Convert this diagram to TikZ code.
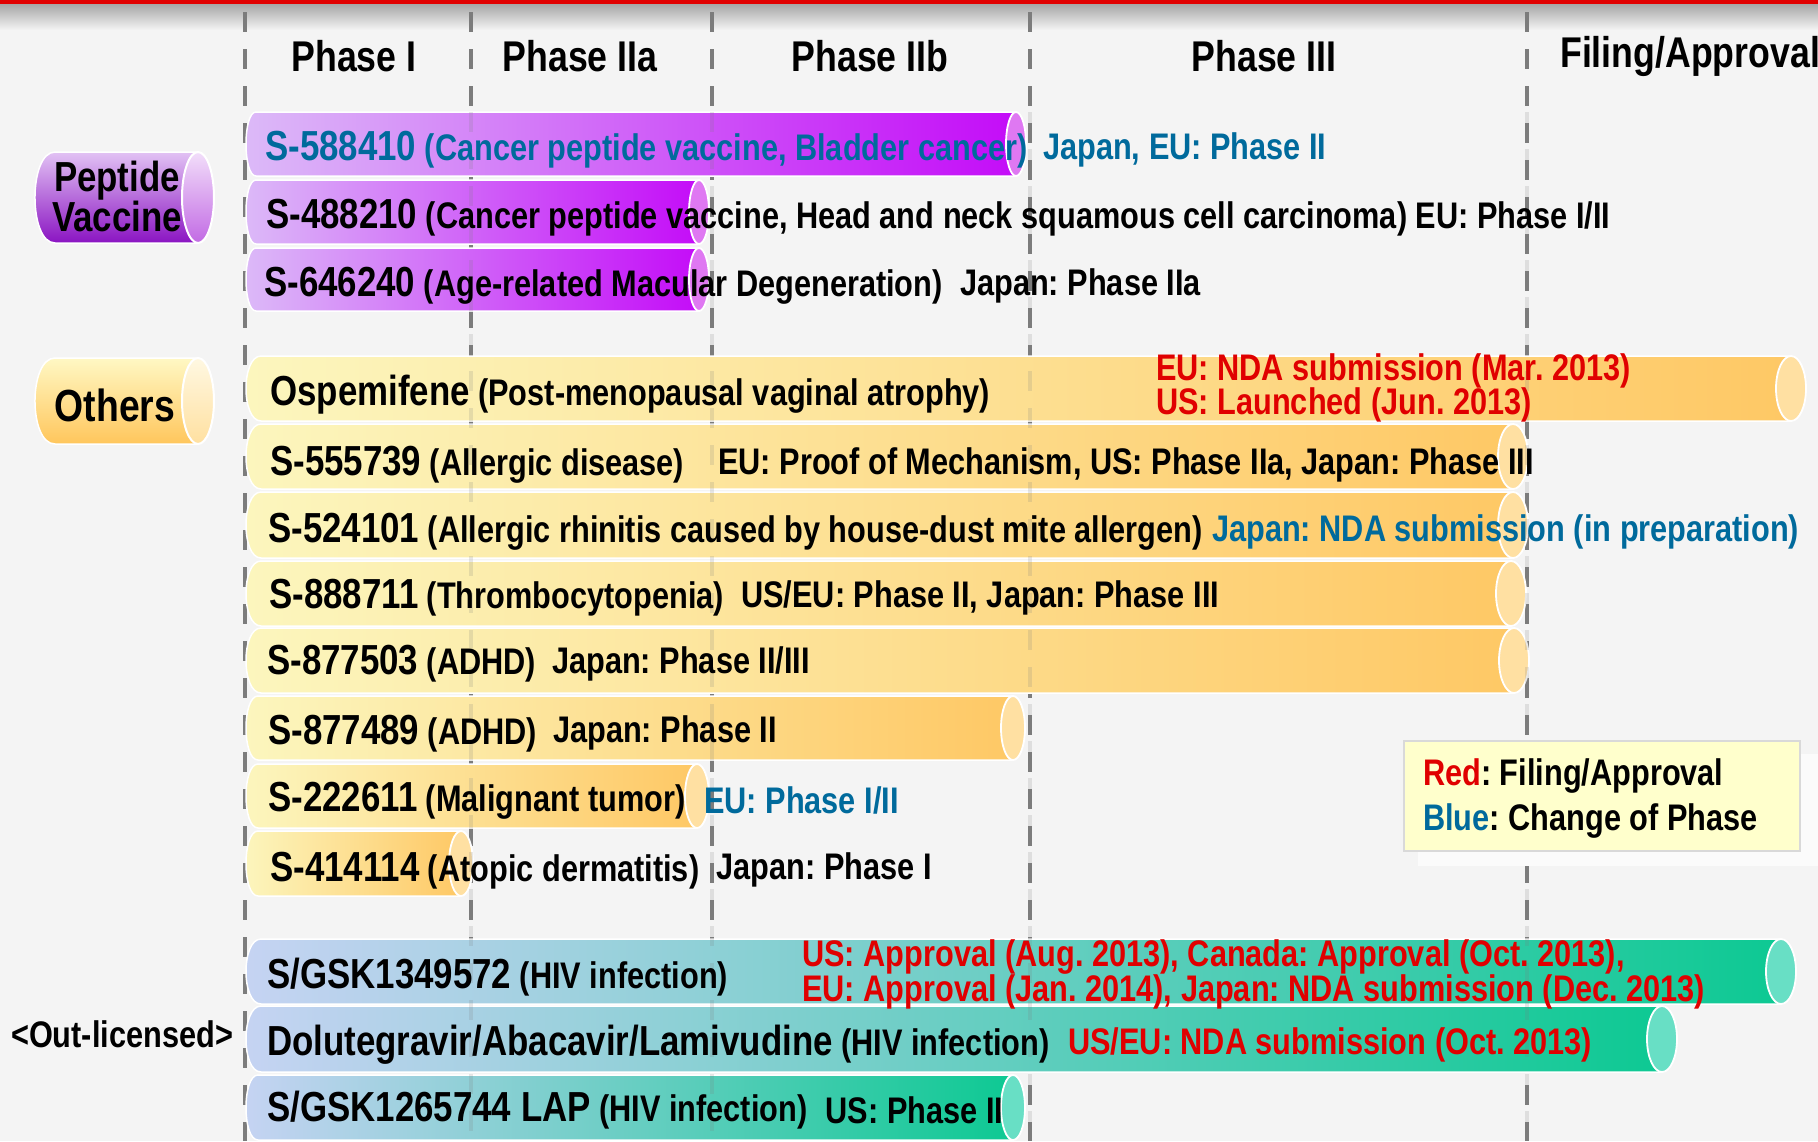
\documentclass[tikz,border=0pt]{standalone}
\usepackage{fontspec}
\setmainfont{Liberation Sans}[FakeStretch=0.83]
\definecolor{bgc}{HTML}{F4F4F4}
\definecolor{pL}{HTML}{DCBAF8}
\definecolor{pR}{HTML}{C40CF8}
\definecolor{pC}{HTML}{DF78F2}
\definecolor{yL}{HTML}{FCF6BE}
\definecolor{yR}{HTML}{FEC865}
\definecolor{yC}{HTML}{FFE0A2}
\definecolor{gL}{HTML}{C6D3F3}
\definecolor{gR}{HTML}{0DC993}
\definecolor{gC}{HTML}{68DFC5}
\definecolor{tblue}{HTML}{006A9C}
\definecolor{tred}{HTML}{E00000}
\definecolor{dashc}{HTML}{7C7C7C}
\definecolor{legc}{HTML}{FFFFCC}
\definecolor{pepT}{HTML}{E2C2F4}
\definecolor{pepM}{HTML}{BC62E6}
\definecolor{pepB}{HTML}{8A14C2}
\definecolor{pepcT}{HTML}{F2DEFA}
\definecolor{pepcB}{HTML}{C26AE4}
\definecolor{othT}{HTML}{FFF8C4}
\definecolor{othB}{HTML}{FFC65C}
\definecolor{othcT}{HTML}{FFF8E2}
\definecolor{othcB}{HTML}{FFE0A0}
\newcommand\fcode{\fontsize{42}{46}\selectfont\bfseries\frenchspacing}
\newcommand\fdesc{\fontsize{37}{40}\selectfont\bfseries\frenchspacing}
\newcommand\fhead{\fontsize{43}{46}\selectfont\bfseries}
% #1 x0, #2 ytop, #3 ybot, #4 cap centre x, #5 rx, #6 left, #7 right, #8 cap colour
\newcommand\cyl[8]{%
  \pgfmathsetmacro\cylmid{(#2+#3)/2}%
  \pgfmathsetmacro\cylry{(#3-#2)/2}%
  \shadedraw[left color=#6,right color=#7,draw=white,line width=1.5pt]
    (#1+#5,#2) -- (#4,#2) -- (#4,#3) -- (#1+#5,#3)
    .. controls (#1-0.333*#5,#3) and (#1-0.333*#5,#2) .. cycle;
  \filldraw[fill=#8,draw=white,line width=1.8pt] (#4,\cylmid) ellipse [x radius=#5pt, y radius=\cylry pt];
}
\begin{document}
\begin{tikzpicture}[x=1pt,y=-1pt,
  txt/.style={inner sep=0pt, anchor=west, yshift=-3pt},
  head/.style={inner sep=0pt, font=\fhead},
  dashln/.style={draw=dashc, line width=3.5pt, dash pattern=on 20pt off 17pt}]
\fill[bgc] (0,0) rectangle (1818,1141);
\useasboundingbox (0,0) rectangle (1818,1141);
% top band
\shade[top color=black!35, bottom color=bgc] (0,4) rectangle (1818,30);
\fill[tred] (0,0) rectangle (1818,4);
% phase separators
\foreach \xx in {245,471,712,1030,1527} {\draw[dashln] (\xx,12) -- (\xx,1141);}
% headers
\node[head] (h1) at (354,56) {Phase I};
\node[head] (h2) at (580,56) {Phase IIa};
\node[head] (h3) at (870,56) {Phase IIb};
\node[head] (h4) at (1264,56) {Phase III};
\node[head, anchor=west] (h5) at (1560,56) {Filing/Approval};
% category pills
\shadedraw[top color=pepT, middle color=pepM, bottom color=pepB, draw=white, line width=1.5pt]
  (55,152) -- (198,152) -- (198,243) -- (55,243) .. controls (28.3,243) and (28.3,152) .. cycle;
\shadedraw[top color=pepcT, bottom color=pepcB, draw=white, line width=2pt] (198,197.5) ellipse [x radius=16pt, y radius=45.5pt];
\node[inner sep=0pt, font=\fcode, align=center] (cpep) at (117,196) {Peptide\\[-6pt]Vaccine};
\shadedraw[top color=othT, bottom color=othB, draw=white, line width=1.5pt]
  (55,358) -- (198,358) -- (198,444) -- (55,444) .. controls (28.3,444) and (28.3,358) .. cycle;
\shadedraw[top color=othcT, bottom color=othcB, draw=white, line width=2pt] (198,401) ellipse [x radius=16pt, y radius=43pt];
\node[inner sep=0pt, font=\fontsize{45}{48}\selectfont\bfseries] (coth) at (115,405) {Others};
\node[inner sep=0pt, font=\fdesc] (cout) at (122,1034) {<Out-licensed>};
% peptide bars
\cyl{246}{112}{176}{1016}{10}{pL}{pR}{pC}
\cyl{246}{180}{244}{699}{10}{pL}{pR}{pC}
\cyl{246}{248}{311}{699}{10}{pL}{pR}{pC}
% others bars
\cyl{246}{356}{421}{1791}{15}{yL}{yR}{yC}
\cyl{246}{424}{489}{1513}{15}{yL}{yR}{yC}
\cyl{246}{492}{558}{1513}{15}{yL}{yR}{yC}
\cyl{246}{561}{626}{1511}{15}{yL}{yR}{yC}
\cyl{246}{628}{693}{1514}{15}{yL}{yR}{yC}
\cyl{246}{696}{760}{1013}{12}{yL}{yR}{yC}
\cyl{246}{764}{828}{697}{12}{yL}{yR}{yC}
\cyl{246}{831}{896}{461}{12}{yL}{yR}{yC}
% out-licensed bars
\cyl{246}{939}{1004}{1781}{15}{gL}{gR}{gC}
\cyl{246}{1006}{1072}{1662}{15}{gL}{gR}{gC}
\cyl{246}{1075}{1140}{1013}{12}{gL}{gR}{gC}
% faint separators through bars
\foreach \xx in {471,712,1030,1527} {\draw[dashln, opacity=0.18] (\xx,112) -- (\xx,1141);}
% peptide texts
\node[txt, text=tblue] (r1) at (265,147) {{\fcode S-588410}{\fdesc\ (Cancer peptide vaccine, Bladder cancer)}};
\node[txt, text=tblue, font=\fdesc] (r1b) at (1043,147) {Japan, EU: Phase II};
\node[txt] (r2) at (266,214.5) {{\fcode S-488210}{\fdesc\ (Cancer peptide vaccine, Head and neck squamous cell carcinoma) EU: Phase I/II}};
\node[txt] (r3) at (264,283) {{\fcode S-646240}{\fdesc\ (Age-related Macular Degeneration)}};
\node[txt, font=\fdesc] (r3b) at (960,283) {Japan: Phase IIa};
% others texts
\node[txt] (o1) at (270,392) {{\fcode Ospemifene}{\fdesc\ (Post-menopausal vaginal atrophy)}};
\node[txt, text=tred, font=\fdesc] (o1b) at (1156,367.5) {EU: NDA submission (Mar. 2013)};
\node[txt, text=tred, font=\fdesc] (o1c) at (1156,402) {US: Launched (Jun. 2013)};
\node[txt] (o2) at (270,461.5) {{\fcode S-555739}{\fdesc\ (Allergic disease)}};
\node[txt, font=\fdesc] (o2b) at (718,461.5) {EU: Proof of Mechanism, US: Phase IIa, Japan: Phase III};
\node[txt] (o3) at (268,528.7) {{\fcode S-524101}{\fdesc\ (Allergic rhinitis caused by house-dust mite allergen)}};
\node[txt, text=tblue, font=\fdesc] (o3b) at (1212,528.7) {Japan: NDA submission (in preparation)};
\node[txt] (o4) at (269,594.8) {{\fcode S-888711}{\fdesc\ (Thrombocytopenia)}};
\node[txt, font=\fdesc] (o4b) at (741,594.8) {US/EU: Phase II, Japan: Phase III};
\node[txt] (o5) at (267,661) {{\fcode S-877503}{\fdesc\ (ADHD)}};
\node[txt, font=\fdesc] (o5b) at (552,661) {Japan: Phase II/III};
\node[txt] (o6) at (268,730.4) {{\fcode S-877489}{\fdesc\ (ADHD)}};
\node[txt, font=\fdesc] (o6b) at (553,730.4) {Japan: Phase II};
\node[txt] (o7) at (268,797.7) {{\fcode S-222611}{\fdesc\ (Malignant tumor)}};
\node[txt, text=tblue, font=\fdesc] (o7b) at (704,797.7) {EU: Phase I/II};
\node[txt] (o8) at (270,867.2) {{\fcode S-414114}{\fdesc\ (Atopic dermatitis)}};
\node[txt, font=\fdesc] (o8b) at (716.5,867.2) {Japan: Phase I};
% out-licensed texts
\node[txt] (g1) at (267,974) {{\fcode S/GSK1349572}{\fdesc\ (HIV infection)}};
\node[txt, text=tred, font=\fdesc] (g1b) at (802,954) {US: Approval (Aug. 2013), Canada: Approval (Oct. 2013),};
\node[txt, text=tred, font=\fdesc] (g1c) at (802,989) {EU: Approval (Jan. 2014), Japan: NDA submission (Dec. 2013)};
\node[txt] (g2) at (267,1042) {{\fcode Dolutegravir/Abacavir/Lamivudine}{\fdesc\ (HIV infection)}};
\node[txt, text=tred, font=\fdesc] (g2b) at (1068,1042) {US/EU: NDA submission (Oct. 2013)};
\node[txt] (g3) at (267,1107) {{\fcode S/GSK1265744 LAP}{\fdesc\ (HIV infection)}};
\node[txt, font=\fdesc] (g3b) at (825.5,1107) {US: Phase II};
% legend
\fill[white!60!bgc] (1418,754) rectangle (1818,866);
\node[draw=black!15, fill=legc, line width=1.5pt, minimum width=396pt, minimum height=110pt, anchor=north west, inner sep=0pt] (legend) at (1403,740) {};
\node[txt, font=\fdesc] (leg1) at (1423,773) {\textcolor{tred}{Red}: Filing/Approval};
\node[txt, font=\fdesc] (leg2) at (1423,818) {\textcolor{tblue}{Blue}: Change of Phase};
\end{tikzpicture}
\end{document}
